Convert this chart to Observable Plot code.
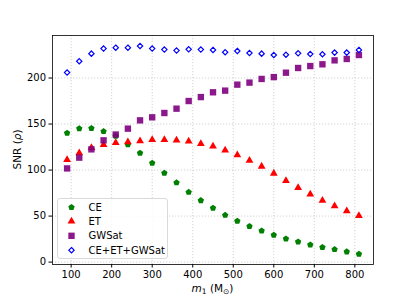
<!DOCTYPE html>
<html><head><meta charset="utf-8">
<script src="https://cdn.jsdelivr.net/npm/d3@7"></script>
<script src="https://cdn.jsdelivr.net/npm/@observablehq/plot@0.6"></script>
<style>
body{margin:0;background:#fff}
svg{font-family:"DejaVu Sans",sans-serif}
</style>
</head><body><div id="chart"></div>
<script>
const mass = [90,120,150,180,210,240,270,300,330,360,390,420,450,480,510,540,570,600,630,660,690,720,750,780,810];
const ce = [140.2,145,145.3,142,137,127.6,118.5,107.6,96.7,86.3,76,67,58.7,51,44.6,38.8,34,29.4,25.4,22.1,18.9,16,13.8,11.3,8.7];
const et = [111.3,118.5,124.3,127.4,129.6,130.6,131.5,133,133,132.3,131.2,128.7,125.8,121.4,116.3,110.5,104,96.4,88.5,80.9,73.6,67,60.9,55.4,50.4];
const gwsat = [101.8,113.5,122.5,132.3,138.6,145,154,157.3,162,166.7,175,179.3,184.5,186.3,192.8,195,199,201,205.8,210.9,213,214.9,219.2,220.7,225];
const combined = [205.9,218.2,226.5,232,233,233,234.8,232,230.9,229.8,231.2,230.9,230.5,228,229.4,227.2,226.5,225,225.3,226.8,226.1,225.8,227.6,227.6,230.5];
const seriesNames = ["CE","ET","GWSat","CE+ET+GWSat"];
const xTicks = [100,200,300,400,500,600,700,800];
const yTicks = [0,50,100,150,200];

const pentagon = {
  draw(ctx, size) {
    const R = Math.sqrt(size / (2.5 * Math.sin(2 * Math.PI / 5)));
    for (let i = 0; i < 5; i++) {
      const a = -Math.PI / 2 + i * 2 * Math.PI / 5;
      const px = R * Math.cos(a), py = R * Math.sin(a);
      if (i === 0) ctx.moveTo(px, py); else ctx.lineTo(px, py);
    }
    ctx.closePath();
  }
};

const rows = (vals) => mass.map((m, i) => ({m, v: vals[i]}));

const styles = [
  {name: seriesNames[0], data: rows(ce), symbol: pentagon, r: 2.9, fill: "green", stroke: "none", fillOpacity: 1},
  {name: seriesNames[1], data: rows(et), symbol: d3.symbolTriangle, r: 2.9, fill: "red", stroke: "none", fillOpacity: 1},
  {name: seriesNames[2], data: rows(gwsat), symbol: d3.symbolSquare, r: 3.6, fill: "purple", stroke: "none", fillOpacity: 0.9},
  {name: seriesNames[3], data: rows(combined), symbol: d3.symbolDiamond2, r: 2.4, fill: "none", stroke: "blue", strokeWidth: 1.2}
];

const W = 415, H = 297;
const plot = Plot.plot({
  width: W, height: H,
  marginLeft: 52, marginRight: 42, marginTop: 35, marginBottom: 33,
  style: {fontSize: "10px", fontFamily: "DejaVu Sans", color: "#000", background: "#fff"},
  x: {domain: [54, 846], ticks: xTicks, label: null},
  y: {domain: [-2.6, 246.2], ticks: yTicks, label: null},
  marks: [
    Plot.gridX(xTicks, {stroke: "#b0b0b0", strokeOpacity: 0.7, strokeDasharray: "1.2,1.8", strokeWidth: 0.8}),
    Plot.gridY(yTicks, {stroke: "#b0b0b0", strokeOpacity: 0.7, strokeDasharray: "1.2,1.8", strokeWidth: 0.8}),
    Plot.axisX(xTicks, {tickSize: 3.5, tickPadding: 3, fontSize: 10, label: null, stroke: "#000"}),
    Plot.axisY(yTicks, {tickSize: 3.5, tickPadding: 3, fontSize: 10, label: null, stroke: "#000"}),
    ...styles.map(s => Plot.dot(s.data, {
      x: "m", y: "v", symbol: s.symbol, r: s.r,
      fill: s.fill, stroke: s.stroke, strokeWidth: s.strokeWidth || 0, fillOpacity: s.fillOpacity
    })),
    Plot.frame({stroke: "#000", strokeWidth: 0.8})
  ]
});
document.getElementById("chart").appendChild(plot);

const svg = d3.select(plot);
// Axis labels
const xl = svg.append("text").attr("x", 212.5).attr("y", 292).attr("text-anchor", "middle")
  .attr("font-size", 10.5).attr("fill", "#000");
xl.append("tspan").attr("font-style", "italic").text("m");
xl.append("tspan").attr("font-size", 7.5).attr("dy", 2).text("1");
xl.append("tspan").attr("dy", -2).text(" (M");
xl.append("tspan").attr("font-size", 7.5).attr("dy", 2).text("⊙");
xl.append("tspan").attr("dy", -2).text(")");

const yl = svg.append("text").attr("transform", "translate(20.5,149.5) rotate(-90)")
  .attr("text-anchor", "middle").attr("font-size", 10.5).attr("fill", "#000");
yl.append("tspan").text("SNR (");
yl.append("tspan").attr("font-style", "italic").text("ρ");
yl.append("tspan").text(")");

// Legend
const lg = svg.append("g").attr("text-anchor", "start");
lg.append("rect").attr("x", 57.5).attr("y", 198.5).attr("width", 110).attr("height", 60)
  .attr("rx", 2.5).attr("fill", "#fff").attr("fill-opacity", 0.8).attr("stroke", "#d0d0d0").attr("stroke-width", 0.8);
const ly = [207.3, 221.3, 235.8, 250.2];
styles.forEach((s, i) => {
  const size = s.r * s.r * Math.PI;
  lg.append("path").attr("d", d3.symbol(s.symbol, size)())
    .attr("transform", `translate(71.5,${ly[i]})`)
    .attr("fill", s.fill).attr("fill-opacity", s.fillOpacity ?? 1)
    .attr("stroke", s.stroke).attr("stroke-width", s.strokeWidth || 0);
  lg.append("text").attr("x", 88.5).attr("y", ly[i]).attr("dy", "0.36em")
    .attr("text-anchor", "start")
    .attr("font-size", 10).attr("fill", "#000").text(s.name);
});
</script>
</body></html>
